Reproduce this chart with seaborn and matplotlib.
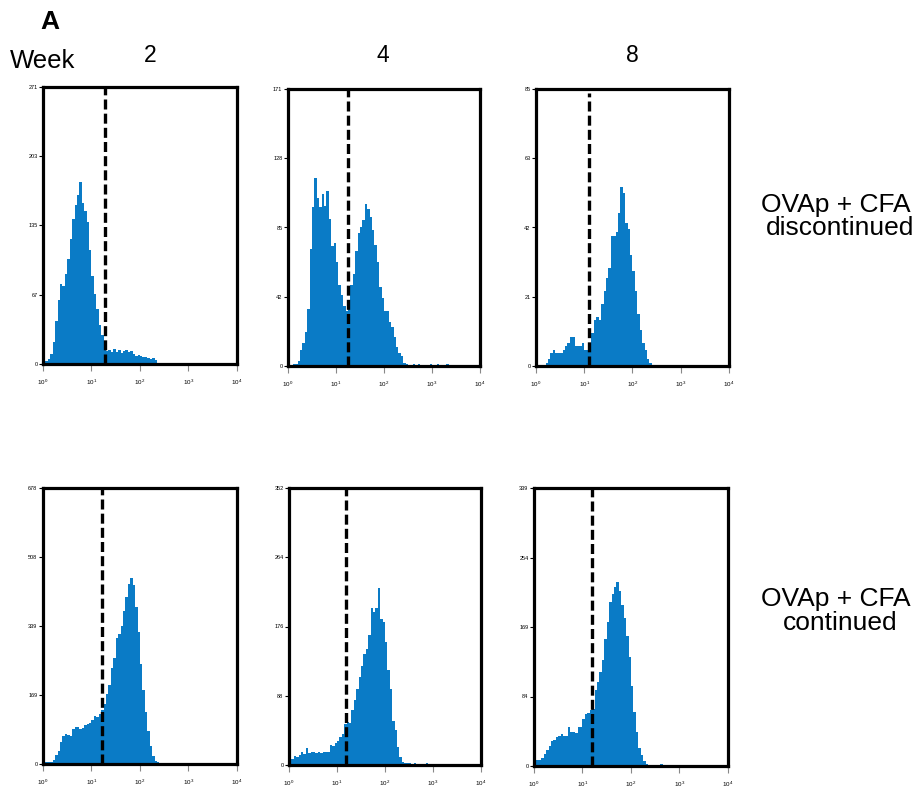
import numpy as np
import matplotlib
matplotlib.use('Agg')
import matplotlib.pyplot as plt
import seaborn as sns
from matplotlib.ticker import FixedLocator, NullLocator

sns.set_style('white')
plt.rcParams['font.family'] = ['Liberation Sans', 'DejaVu Sans']
plt.rcParams['mathtext.fontset'] = 'custom'
plt.rcParams['mathtext.rm'] = 'Liberation Sans'
plt.rcParams['text.color'] = 'black'
plt.rcParams['xtick.color'] = 'black'
plt.rcParams['ytick.color'] = 'black'

BLUE = '#0a7bc6'

# channel grid: 80 bins, 0.05 decade each, from 10^0 to 10^4
log_centers = np.arange(80) * 0.05 + 0.025

weeks = ['2', '4', '8']
rows = [['OVAp + CFA', 'discontinued'], ['OVAp + CFA', 'continued']]

# counts per bin
disc_w2 = [1, 3, 5, 10, 22, 42, 63, 78, 76, 88,
           103, 122, 142, 156, 165, 178, 158, 150, 139, 112,
           86, 68, 54, 38, 28, 18, 13, 14, 12, 15,
           12, 14, 11, 13, 14, 12, 13, 10, 8, 9,
           8, 7, 7, 6, 5, 6, 4, 1, 1, 1,
           1, 1, 1, 1, 1, 1, 1, 1, 1, 1,
           1, 1, 1, 1, 1, 1, 1, 1, 1, 1,
           1, 1, 1, 1, 1, 1, 1, 1, 1, 1]
disc_w4 = [0, 0, 1, 1, 3, 10, 14, 21, 35, 72,
           98, 116, 104, 98, 106, 99, 108, 91, 74, 76,
           64, 50, 44, 37, 34, 39, 50, 57, 71, 82,
           86, 90, 100, 97, 92, 84, 75, 64, 49, 42,
           34, 34, 27, 24, 18, 12, 8, 6, 2, 1,
           0, 0, 1, 0, 1, 0, 0, 0, 0, 1,
           0, 0, 1, 0, 0, 0, 1, 0, 0, 0,
           0, 0, 0, 0, 0, 0, 0, 0, 0, 0]
disc_w8 = [0, 0, 0, 0, 1, 2, 4, 5, 4, 4,
           4, 5, 6, 7, 9, 9, 6, 6, 6, 7,
           5, 5, 5, 10, 14, 15, 14, 19, 23, 27,
           30, 40, 40, 41, 47, 55, 53, 44, 42, 34,
           29, 23, 16, 11, 7, 5, 2, 1, 0, 0,
           0, 0, 0, 0, 0, 0, 0, 0, 0, 0,
           0, 0, 0, 0, 0, 0, 0, 0, 0, 0,
           0, 0, 0, 0, 0, 0, 0, 0, 0, 0]
cont_w2 = [3, 4, 5, 6, 10, 21, 33, 53, 68, 74,
           72, 70, 86, 91, 90, 85, 88, 96, 98, 100,
           108, 118, 115, 124, 133, 148, 172, 195, 236, 260,
           310, 320, 338, 375, 410, 442, 458, 440, 385, 325,
           245, 182, 128, 82, 45, 19, 8, 4, 3, 3,
           3, 3, 3, 3, 3, 3, 3, 3, 3, 3,
           3, 3, 3, 3, 3, 3, 3, 3, 3, 3,
           3, 3, 3, 3, 3, 3, 3, 3, 3, 3]
cont_w4 = [9, 8, 11, 10, 13, 17, 14, 22, 15, 16,
           16, 15, 16, 15, 16, 16, 17, 25, 24, 28,
           30, 36, 39, 52, 55, 54, 70, 83, 97, 112,
           126, 141, 148, 165, 200, 194, 200, 225, 186, 182,
           156, 121, 97, 56, 45, 23, 10, 4, 2, 2,
           2, 1, 2, 1, 1, 1, 1, 2, 1, 1,
           1, 1, 1, 1, 1, 1, 1, 1, 1, 1,
           1, 1, 1, 1, 1, 1, 1, 1, 1, 1]
cont_w8 = [12, 7, 7, 10, 15, 19, 24, 31, 32, 35,
           36, 39, 37, 36, 48, 42, 42, 40, 47, 48,
           57, 63, 65, 68, 70, 93, 103, 115, 129, 155,
           176, 200, 210, 218, 224, 214, 196, 181, 158, 133,
           98, 66, 42, 22, 13, 6, 2, 1, 1, 1,
           1, 1, 2, 1, 1, 1, 1, 1, 1, 1,
           1, 1, 1, 1, 1, 1, 1, 1, 1, 1,
           1, 1, 1, 1, 1, 1, 1, 1, 1, 1]

counts = [[disc_w2, disc_w4, disc_w8], [cont_w2, cont_w4, cont_w8]]
y_max = [[271, 171, 85], [678, 352, 339]]
gates = [[19.4, 17.4, 12.7], [16.3, 15.5, 15.6]]

x_ticks = [1, 10, 100, 1000, 10000]
x_tick_labels = [r'$10^{0}$', r'$10^{1}$', r'$10^{2}$', r'$10^{3}$', r'$10^{4}$']

# axes boxes in pixels (left, top, right, bottom)
boxes = [[(43, 87, 237, 364), (288, 89, 480, 366), (536, 89, 729, 366)],
         [(43, 488, 237, 764), (289, 488, 481, 765), (534, 488, 728, 766)]]

W, H = 920, 788
fig = plt.figure(figsize=(W / 100, H / 100), dpi=100)

for r in range(2):
    for c in range(3):
        l, t, rr, b = boxes[r][c]
        ax = fig.add_axes([l / W, 1 - b / H, (rr - l) / W, (b - t) / H])
        sns.histplot(x=10 ** log_centers, weights=counts[r][c], bins=80, binrange=(0, 4),
                     log_scale=True, element='step', fill=True, color=BLUE, alpha=1,
                     linewidth=0, ax=ax)
        ax.axvline(gates[r][c], color='black', lw=2.4, dashes=(3, 1.25),
                   ymax=0.985 if (r, c) == (0, 2) else 1)
        ax.set_xlim(1, 1e4)
        ax.set_ylim(0, y_max[r][c])
        ax.set_xlabel('')
        ax.set_ylabel('')
        ax.xaxis.set_major_locator(FixedLocator(x_ticks))
        ax.xaxis.set_minor_locator(NullLocator())
        ax.set_xticklabels(x_tick_labels)
        yt = np.linspace(0, y_max[r][c], 5)
        ax.set_yticks(yt)
        ax.set_yticklabels([str(int(v)) for v in yt])
        ax.tick_params(axis='y', direction='out', length=3, width=0.8, labelsize=4, pad=1, left=True)
        ax.tick_params(axis='x', direction='out', length=5, width=0.8, color='#888888',
                       labelcolor='black', labelsize=4.5, pad=5, bottom=True)
        for s in ax.spines.values():
            s.set_visible(True)
            s.set_color('black')
            s.set_linewidth(2.3)

fig.text(50 / W, 1 - 29 / H, 'A', fontsize=19, fontweight='bold', ha='center', va='baseline')
fig.text(10 / W, 1 - 68 / H, 'Week', fontsize=18.5, ha='left', va='baseline')
for x, w in zip([150, 383, 632], weeks):
    fig.text(x / W, 1 - 62 / H, w, fontsize=16.5, ha='center', va='baseline')

fig.text(836 / W, 1 - 212 / H, rows[0][0], fontsize=19, ha='center', va='baseline')
fig.text(840 / W, 1 - 235 / H, rows[0][1], fontsize=19, ha='center', va='baseline')
fig.text(836 / W, 1 - 606 / H, rows[1][0], fontsize=19, ha='center', va='baseline')
fig.text(840 / W, 1 - 630 / H, rows[1][1], fontsize=19, ha='center', va='baseline')

fig.savefig('out.png', dpi=100, facecolor='white')
